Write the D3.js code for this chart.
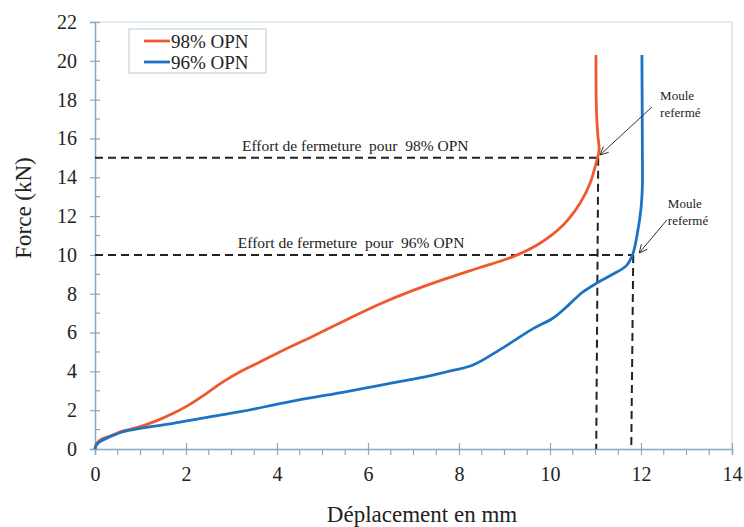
<!DOCTYPE html>
<html>
<head>
<meta charset="utf-8">
<script src="https://cdn.jsdelivr.net/npm/d3@7"></script>
<style>
  body { margin: 0; background: #fff; }
  svg text { font-family: "Liberation Serif", "DejaVu Serif", "Times New Roman", Times, serif !important; fill: #222; }
</style>
</head>
<body>
<div id="chart"></div>
<script>
var w = 744, h = 527;

// data
var seriesNames = ["98% OPN", "96% OPN"];
var seriesColors = ["#f0582d", "#1c73c2"];

var disp98  = [0, 0.03, 0.11, 0.33, 0.62, 0.99, 1.36, 1.72, 2.02, 2.46, 2.82, 3.19, 3.56, 4.07, 4.8, 5.53, 6.26, 6.99, 7.73, 8.46, 9.19, 9.78, 10.29, 10.66, 10.88, 11.03, 11.08, 11.05, 11.02, 11.01];
var force98 = [0, 0.25, 0.46, 0.67, 0.93, 1.15, 1.46, 1.84, 2.21, 2.88, 3.47, 3.98, 4.41, 5.01, 5.82, 6.66, 7.47, 8.17, 8.79, 9.35, 9.91, 10.6, 11.54, 12.66, 13.69, 14.89, 15.4, 16.2, 17.5, 20.3];

var disp96  = [0, 0.03, 0.11, 0.33, 0.62, 0.99, 1.72, 2.46, 3.19, 4.29, 5.53, 6.26, 6.99, 7.43, 7.73, 8.31, 8.9, 9.63, 10.07, 10.4, 10.7, 11.03, 11.38, 11.68, 11.82, 11.92, 12.0, 12.03, 12.03, 12.02];
var force96 = [0, 0.2, 0.38, 0.63, 0.89, 1.06, 1.32, 1.63, 1.92, 2.44, 2.96, 3.28, 3.6, 3.81, 3.98, 4.33, 5.12, 6.2, 6.75, 7.4, 8.05, 8.55, 9.0, 9.45, 10.05, 11.1, 12.4, 13.5, 15.4, 20.3];

var xTicks = [0, 2, 4, 6, 8, 10, 12, 14];
var yTicks = [0, 2, 4, 6, 8, 10, 12, 14, 16, 18, 20, 22];

// closing force annotations
var closeForce = [15, 10];
var closeDisp = [11.06, 11.83];
var closeLabels = ["Effort de fermeture  pour  98% OPN", "Effort de fermeture  pour  96% OPN"];
var closeLabelPos = [[3.23, 15.35], [3.14, 10.36]];
var mouleText = [[12.42, 17.98], [12.59, 12.42]];
var arrowTail = [[12.24, 17.62], [12.57, 11.8]];
var arrowTip = [[11.1, 15.15], [11.96, 10.1]];

var margin = {top: 22, right: 12, bottom: 78, left: 95};
var pw = w - margin.left - margin.right;
var ph = h - margin.top - margin.bottom;

var svg = d3.select("#chart").append("svg").attr("width", w).attr("height", h);
var g = svg.append("g").attr("transform", "translate(" + margin.left + "," + margin.top + ")");

var x = d3.scaleLinear().domain([0, 14]).range([0, pw]);
var y = d3.scaleLinear().domain([0, 22]).range([ph, 0]);

var axisCol = "#86a9c1";

// frame (top / right)
g.append("line").attr("x1", 0).attr("x2", pw).attr("y1", 0).attr("y2", 0).attr("stroke", "#c9d8e3").attr("stroke-width", 1.2);
g.append("line").attr("x1", pw).attr("x2", pw).attr("y1", 0).attr("y2", ph).attr("stroke", "#c9d8e3").attr("stroke-width", 1.2);

// minor ticks
g.selectAll(".ymin").data(d3.range(1, 22, 2)).enter().append("line")
  .attr("x1", 0).attr("x2", 5).attr("y1", function(d){ return y(d); }).attr("y2", function(d){ return y(d); })
  .attr("stroke", axisCol).attr("stroke-width", 1.2);
g.selectAll(".xmin").data(d3.range(0.5, 14, 1).concat(d3.range(1, 14, 2))).enter().append("line")
  .attr("x1", function(d){ return x(d); }).attr("x2", function(d){ return x(d); }).attr("y1", ph).attr("y2", ph + 6)
  .attr("stroke", axisCol).attr("stroke-width", 1.2);

// axes
var yAxis = g.append("g").call(d3.axisLeft(y).tickValues(yTicks).tickSize(5).tickPadding(13));
yAxis.selectAll(".tick line").attr("x2", 5).attr("x1", -5);
var xAxis = g.append("g").attr("transform", "translate(0," + ph + ")")
  .call(d3.axisBottom(x).tickValues(xTicks).tickSize(6).tickPadding(12));
xAxis.selectAll(".tick line").attr("y1", -6).attr("y2", 6);
[xAxis, yAxis].forEach(function(a){
  a.attr("font-family", null);
  a.select(".domain").attr("stroke", axisCol).attr("stroke-width", 1.5);
  a.selectAll(".tick line").attr("stroke", axisCol).attr("stroke-width", 1.2);
  a.selectAll(".tick text").attr("font-size", 20).attr("fill", "#222");
});

// axis titles
svg.append("text").attr("x", 422).attr("y", 522).attr("text-anchor", "middle").attr("font-size", 23).text("Déplacement en mm");
svg.append("text").attr("transform", "translate(31,208) rotate(-90)").attr("text-anchor", "middle").attr("font-size", 23).text("Force (kN)");

// dashed closing lines
for (var i = 0; i < closeForce.length; i++) {
  g.append("line").attr("x1", 0).attr("x2", x(closeDisp[i])).attr("y1", y(closeForce[i])).attr("y2", y(closeForce[i]))
    .attr("stroke", "#222").attr("stroke-width", 2).attr("stroke-dasharray", "8,5");
  g.append("line").attr("x1", x(closeDisp[i])).attr("x2", x(closeDisp[i]) - 2).attr("y1", y(closeForce[i])).attr("y2", ph)
    .attr("stroke", "#222").attr("stroke-width", 2).attr("stroke-dasharray", "8,5");
  g.append("text").attr("x", x(closeLabelPos[i][0])).attr("y", y(closeLabelPos[i][1]))
    .attr("font-size", 15.5).style("white-space", "pre").text(closeLabels[i]);
}

// curves
var line = d3.line().x(function(d){ return x(d[0]); }).y(function(d){ return y(d[1]); }).curve(d3.curveCatmullRom.alpha(0.5));
var series = [d3.zip(disp98, force98), d3.zip(disp96, force96)];
series.forEach(function(s, i){
  g.append("path").datum(s).attr("d", line).attr("fill", "none")
    .attr("stroke", seriesColors[i]).attr("stroke-width", 2.8).attr("stroke-linejoin", "round");
});

// "Moule refermé" notes + arrows
for (var j = 0; j < mouleText.length; j++) {
  var t = g.append("text").attr("x", x(mouleText[j][0])).attr("y", y(mouleText[j][1])).attr("font-size", 13);
  t.append("tspan").text("Moule");
  t.append("tspan").attr("x", x(mouleText[j][0])).attr("dy", 17).text("refermé");

  var x1 = x(arrowTail[j][0]), y1 = y(arrowTail[j][1]), x2 = x(arrowTip[j][0]), y2 = y(arrowTip[j][1]);
  g.append("line").attr("x1", x1).attr("y1", y1).attr("x2", x2).attr("y2", y2).attr("stroke", "#333").attr("stroke-width", 1);
  var ang = Math.atan2(y2 - y1, x2 - x1), L = 9, sp = 0.45;
  g.append("polyline")
    .attr("points", [
      [x2 - L * Math.cos(ang - sp), y2 - L * Math.sin(ang - sp)],
      [x2, y2],
      [x2 - L * Math.cos(ang + sp), y2 - L * Math.sin(ang + sp)]
    ].join(" "))
    .attr("fill", "none").attr("stroke", "#333").attr("stroke-width", 1);
}

// legend
var lg = svg.append("g");
lg.append("rect").attr("x", 129).attr("y", 29).attr("width", 137).attr("height", 44)
  .attr("fill", "#fff").attr("stroke", "#c0d2de").attr("stroke-width", 1.2);
seriesNames.forEach(function(n, i){
  var yy = 41 + i * 21;
  lg.append("line").attr("x1", 144).attr("x2", 170).attr("y1", yy).attr("y2", yy)
    .attr("stroke", seriesColors[i]).attr("stroke-width", 2.8);
  lg.append("text").attr("x", 171).attr("y", yy + 6.5).attr("font-size", 19).text(n);
});
</script>
</body>
</html>
